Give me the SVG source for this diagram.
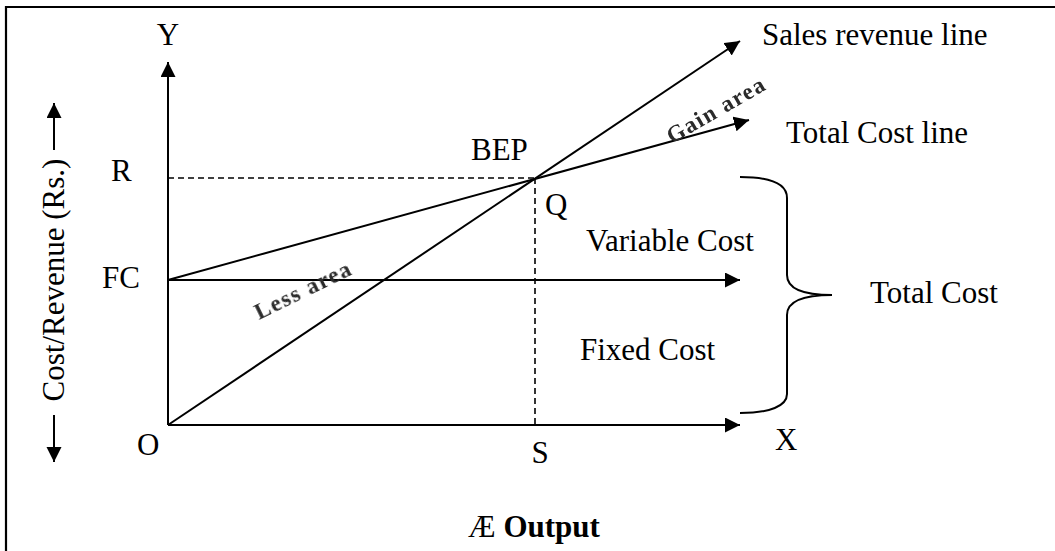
<svg xmlns="http://www.w3.org/2000/svg" width="1055" height="551" viewBox="0 0 1055 551">
  <style>
    .lbl { font-family: "Liberation Serif", "Times New Roman", serif; font-size: 31px; fill: #000; }
    .ln { stroke: #000; stroke-width: 2; fill: none; }
    .dash { stroke: #000; stroke-width: 1.6; fill: none; stroke-dasharray: 6 4; }
    .area { font-family: "Liberation Serif", "Times New Roman", serif; font-size: 23px; font-weight: bold; fill: #2a2a2a; letter-spacing: 1.5px; }
  </style>
  <defs>
    <marker id="arrow" markerUnits="userSpaceOnUse" markerWidth="16" markerHeight="16" refX="15" refY="7.5" orient="auto">
      <path d="M0,0 L15,7.5 L0,15 z" fill="#000"/>
    </marker>
    <filter id="soft" x="-10%" y="-10%" width="120%" height="120%">
      <feGaussianBlur stdDeviation="0.6"/>
    </filter>
  </defs>

  <rect width="1055" height="551" fill="#fff"/>

  <!-- frame -->
  <path d="M6,551 V7 H1055" stroke="#000" stroke-width="2.2" fill="none"/>

  <!-- connectors: axes, cost and revenue lines, guides -->
  <g id="connectors">
    <line class="ln" x1="168" y1="425" x2="168" y2="62" marker-end="url(#arrow)"/>
    <line class="ln" x1="168" y1="425" x2="740" y2="425" marker-end="url(#arrow)"/>
    <line class="ln" x1="168" y1="280" x2="740" y2="280" marker-end="url(#arrow)"/>
    <line class="ln" x1="168" y1="425" x2="740" y2="41" marker-end="url(#arrow)"/>
    <line class="ln" x1="168" y1="280" x2="749" y2="120" marker-end="url(#arrow)"/>
    <line class="dash" x1="168" y1="178" x2="535" y2="178"/>
    <line class="dash" x1="535" y1="178" x2="535" y2="425" stroke-dasharray="7 4"/>
    <line class="ln" x1="54" y1="150" x2="54" y2="103" marker-end="url(#arrow)"/>
    <line class="ln" x1="54" y1="415" x2="54" y2="462" marker-end="url(#arrow)"/>
  </g>

  <!-- brace grouping fixed and variable cost -->
  <g id="brace">
    <path class="ln" d="M740,177 C770,177 787,183 787,198 L787,275 C787,289 805,295 832,295 C805,295 787,301 787,315 L787,394 C787,406 770,413 740,413"/>
  </g>

  <g id="axis-labels">
    <text class="lbl" x="168" y="45" text-anchor="middle">Y</text>
    <text class="lbl" x="775" y="450">X</text>
    <text class="lbl" x="137" y="455">O</text>
    <text class="lbl" x="540" y="463" text-anchor="middle">S</text>
    <text class="lbl" x="111" y="181">R</text>
    <text class="lbl" x="102" y="288">FC</text>
    <text class="lbl" transform="translate(64,280) rotate(-90)" text-anchor="middle">Cost/Revenue (Rs.)</text>
    <text class="lbl" x="534" y="537" text-anchor="middle">Æ <tspan font-weight="bold">Output</tspan></text>
  </g>

  <g id="line-labels">
    <text class="lbl" x="762" y="45">Sales revenue line</text>
    <text class="lbl" x="786" y="143">Total Cost line</text>
  </g>

  <g id="bep">
    <text class="lbl" x="471" y="160">BEP</text>
    <text class="lbl" x="545" y="215">Q</text>
  </g>

  <g id="cost-parts">
    <text class="lbl" x="586" y="251">Variable Cost</text>
    <text class="lbl" x="580" y="360">Fixed Cost</text>
    <text class="lbl" x="870" y="303">Total Cost</text>
  </g>

  <g id="areas" filter="url(#soft)">
    <text class="area" transform="translate(672,144) rotate(-30)">Gain area</text>
    <text class="area" transform="translate(259,320) rotate(-26)">Less area</text>
  </g>
</svg>
